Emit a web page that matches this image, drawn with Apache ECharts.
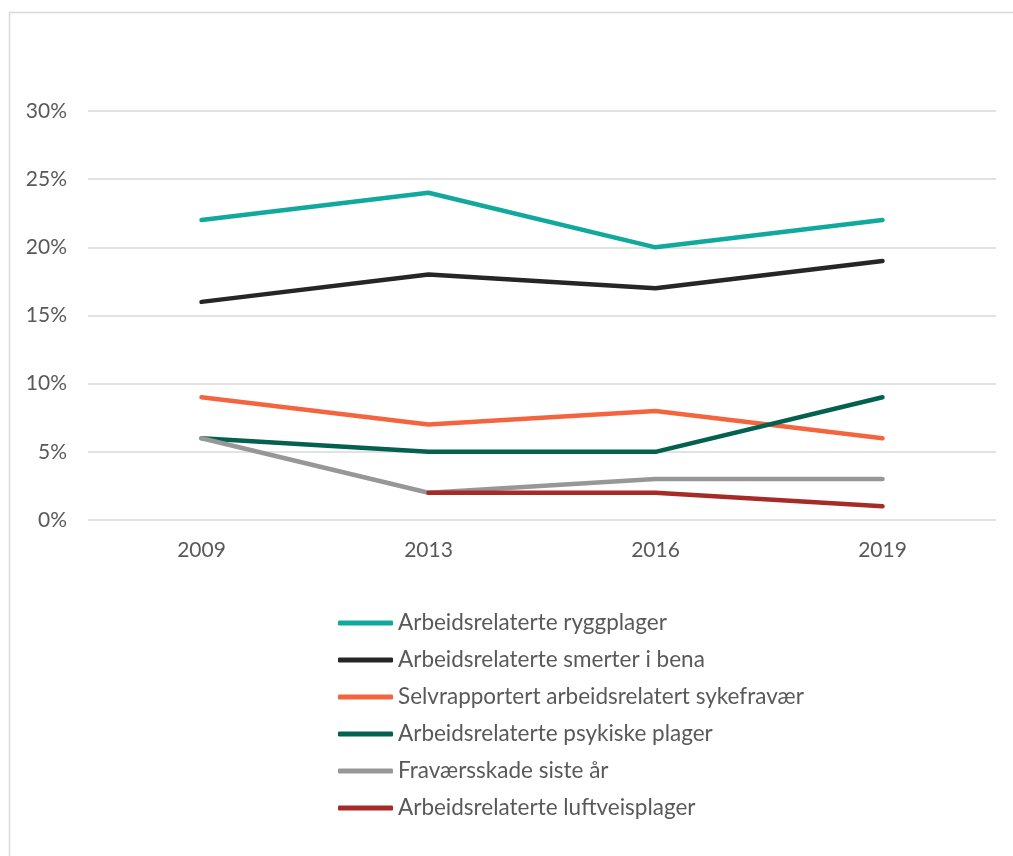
<!DOCTYPE html>
<html>
<head>
<meta charset="utf-8">
<script src="https://cdn.jsdelivr.net/npm/echarts@6/dist/echarts.min.js"></script>
<style>
html,body{margin:0;padding:0;background:#fff;}
#chart{width:1013px;height:856px;}
</style>
</head>
<body>
<div id="chart"></div>
<script>
const categories = ['2009', '2013', '2016', '2019'];
const seriesNames = [
  'Arbeidsrelaterte ryggplager',
  'Arbeidsrelaterte smerter i bena',
  'Selvrapportert arbeidsrelatert sykefravær',
  'Arbeidsrelaterte psykiske plager',
  'Fraværsskade siste år',
  'Arbeidsrelaterte luftveisplager'
];
const ryggplager = [22, 24, 20, 22];
const smerterBena = [16, 18, 17, 19];
const sykefravaer = [9, 7, 8, 6];
const psykiske = [6, 5, 5, 9];
const fravaersskade = [6, 2, 3, 3];
const luftveis = [null, 2, 2, 1];
const yTicks = [0, 5, 10, 15, 20, 25, 30];

const colors = ['#11A99D', '#262626', '#F4653F', '#04614F', '#979797', '#A62B26'];
const values = [ryggplager, smerterBena, sykefravaer, psykiske, fravaersskade, luftveis];
const FONT = 'Lato';

const chart = echarts.init(document.getElementById('chart'));
chart.setOption({
  animation: false,
  backgroundColor: '#fff',
  textStyle: { fontFamily: FONT },
  graphic: [{
    type: 'rect',
    shape: { x: 9.5, y: 12.5, width: 1100, height: 1000 },
    style: { fill: 'none', stroke: '#d9d9d9', lineWidth: 1.5 },
    silent: true
  }],
  grid: { left: 88, right: 17, top: 111, bottom: 336 },
  legend: {
    orient: 'vertical',
    left: 338,
    top: 611,
    padding: 0,
    itemWidth: 55,
    itemHeight: 5,
    itemGap: 13,
    icon: 'roundRect',
    data: seriesNames,
    textStyle: { fontFamily: FONT, fontSize: 22.5, color: '#595959', lineHeight: 24 }
  },
  xAxis: {
    type: 'category',
    data: categories,
    boundaryGap: true,
    axisLine: { show: false },
    axisTick: { show: false },
    axisLabel: { color: '#595959', fontSize: 21, margin: 20, fontFamily: FONT }
  },
  yAxis: {
    type: 'value',
    min: yTicks[0],
    max: yTicks[yTicks.length - 1],
    interval: 5,
    axisLine: { show: false },
    axisTick: { show: false },
    axisLabel: { color: '#595959', fontSize: 21, margin: 21, formatter: '{value}%', fontFamily: FONT },
    splitLine: { lineStyle: { color: '#d9d9d9', width: 1.5 } }
  },
  series: seriesNames.map((name, i) => ({
    name: name,
    type: 'line',
    data: values[i],
    symbol: 'none',
    connectNulls: false,
    color: colors[i],
    lineStyle: { width: 4.5, color: colors[i], cap: 'round', join: 'round' },
    itemStyle: { color: colors[i] }
  }))
});
</script>
</body>
</html>
